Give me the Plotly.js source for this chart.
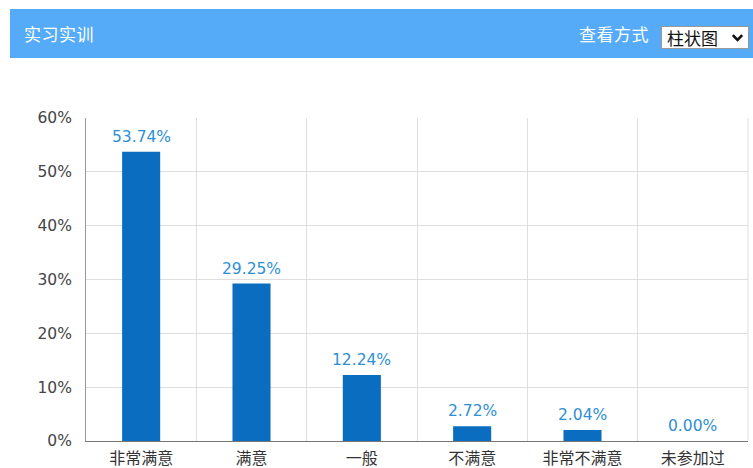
<!DOCTYPE html>
<html><head><meta charset="utf-8">
<script src="https://cdn.plot.ly/plotly-3.0.1.min.js"></script>
<style>
html,body{margin:0;padding:0;background:#fff;width:753px;height:468px;overflow:hidden;font-family:"Noto Sans CJK SC","Noto Sans",sans-serif;}
#wrap{position:relative;width:753px;height:468px;}
#chart{position:absolute;left:0;top:0;width:753px;height:468px;}
#hdr{position:absolute;left:10px;top:9px;width:743px;height:49px;background:#55abf8;}
#ttl{position:absolute;left:14px;top:0;line-height:49px;color:#fff;font-size:17px;letter-spacing:0.5px;}
#view{position:absolute;left:569px;top:0;line-height:49px;color:#fff;font-size:17px;letter-spacing:0.5px;}
#sel{position:absolute;left:651px;top:17px;width:88px;height:23px;background:#fff;border:1px solid #999;box-sizing:border-box;font-size:17px;line-height:21px;color:#111;padding-left:5px;}
#sel svg{position:absolute;right:4px;top:6px;}
</style></head>
<body><div id="wrap"><div id="chart"></div>
<div id="hdr"><div id="ttl">实习实训</div><div id="view">查看方式</div>
<div id="sel">柱状图<svg width="13" height="10" viewBox="0 0 13 10"><polyline points="1.8,2.2 6.5,7 11.2,2.2" fill="none" stroke="#111" stroke-width="2.6"/></svg></div></div>
</div>
<script>
const categories = ["非常满意","满意","一般","不满意","非常不满意","未参加过"];
const values = [53.74, 29.25, 12.24, 2.72, 2.04, 0.00];
const yTickVals = [0,10,20,30,40,50,60];
const yTickText = ["0%","10%","20%","30%","40%","50%","60%"];

const FONT = "DejaVu Sans, Noto Sans CJK SC";
const trace = {
  type:"bar", x:categories, y:values,
  width:0.345,
  marker:{color:"#0a6dbf"},
  textposition:"none",
  hoverinfo:"none"
};
const annotations = categories.map((c,i)=>({
  x:c, y:values[i], xref:"x", yref:"y", text:values[i].toFixed(2)+"%",
  showarrow:false, yanchor:"bottom", yshift:4,
  font:{family:FONT, size:15.5, color:"#2e8fd4"}
}));
const layout = {
  width:753, height:468,
  margin:{l:86, r:5, t:118, b:27},
  paper_bgcolor:"#fff", plot_bgcolor:"#fff",
  showlegend:false,
  font:{family:FONT, size:13, color:"#444"},
  xaxis:{type:"category", tickson:"boundaries", ticks:"", showgrid:true, gridcolor:"#dedede", gridwidth:1,
    showline:true, linecolor:"#777", linewidth:1, mirror:false, zeroline:false, ticklabelstandoff:3,
    tickfont:{family:"Noto Sans CJK SC", size:16, color:"#333"}, range:[-0.5,5.5], fixedrange:true},
  yaxis:{range:[0,60], tickvals:yTickVals, ticktext:yTickText, showgrid:true, gridcolor:"#dedede",
    showline:true, linecolor:"#999", linewidth:1, zeroline:false, ticks:"",
    ticklabelstandoff:10, tickfont:{family:FONT, size:15.5, color:"#444"}, fixedrange:true},
  annotations:annotations,
  shapes:[{type:"line", xref:"paper", yref:"paper", x0:1, x1:1, y0:0, y1:1, line:{color:"#dedede", width:1}}]
};
Plotly.newPlot("chart",[trace],layout,{displayModeBar:false, staticPlot:true});
</script></body></html>
